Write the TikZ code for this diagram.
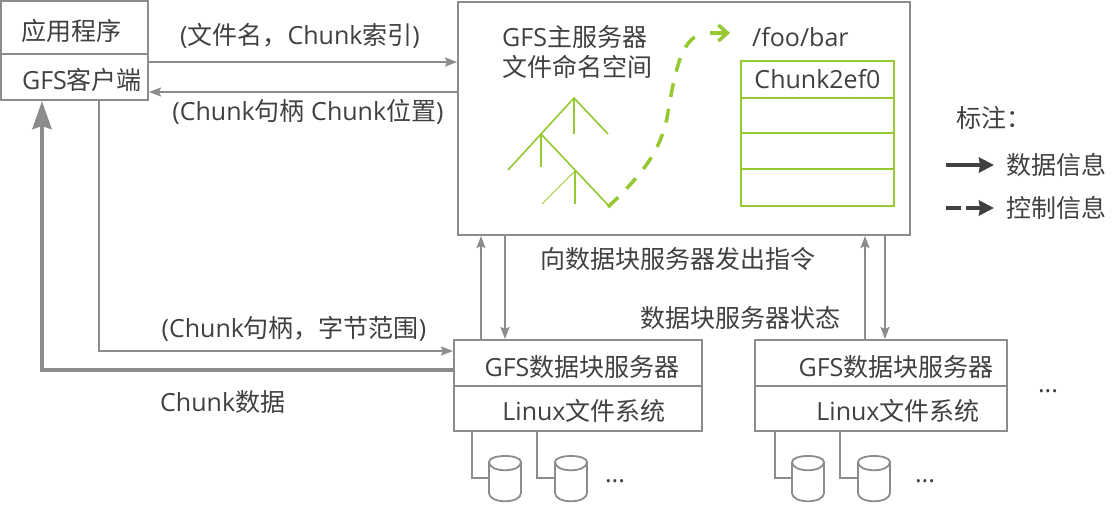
\documentclass[tikz,border=0pt]{standalone}
\usepackage{fontspec}
\setmainfont{Open Sans}
\newfontfamily\cjk{Noto Sans CJK SC}
\newcommand{\zh}[1]{{\cjk #1}}
\usetikzlibrary{arrows.meta}
\definecolor{linegray}{HTML}{8C8C8C}
\definecolor{textgray}{HTML}{404040}
\definecolor{leafgreen}{HTML}{96C832}
\tikzset{
    tag/.style={text=textgray,inner sep=0pt,font=\fontsize{25}{30}\selectfont},
    lefttag/.style={tag,anchor=west},
    box/.style={draw=linegray,line width=2pt,inner sep=0pt},
    slot/.style={draw=leafgreen,line width=2.4pt,inner sep=0pt,minimum width=153pt,text=textgray,font=\fontsize{25}{30}\selectfont},
    link/.style={draw=linegray,line width=1.8pt},
    flow/.style={link,-{Stealth[length=12pt,width=9pt,inset=2pt]}},
    bigflow/.style={draw=linegray,line width=4.5pt,-{Stealth[length=28pt,width=19pt,inset=3pt]}},
    branch/.style={draw=leafgreen,line width=1.6pt},
    jump/.style={draw=leafgreen,line width=3.5pt,dash pattern=on 14pt off 12pt},
    keysolid/.style={draw=textgray,line width=4pt,-{Stealth[length=15pt,width=15pt,inset=1pt]}},
    keydash/.style={keysolid,dash pattern=on 15pt off 5pt},
    disk/.pic={
        \draw[link,fill=white] (-16,-16) .. controls (-16,-24) and (16,-24) .. (16,-16)
            -- (16,15) .. controls (16,26) and (-16,26) .. (-16,15) -- cycle;
        \draw[link] (-16,-16) .. controls (-16,-5) and (16,-5) .. (16,-16);
        \coordinate (-side) at (-16,0);
    }
}
\begin{document}
\begin{tikzpicture}[x=1pt,y=-1pt]
\useasboundingbox (0,0) rectangle (1120,504);
% client
\node[box,minimum width=147pt,minimum height=53pt] (app) at (74.5,27.5) {};
\node[box,minimum width=147pt,minimum height=46pt] (client) at (74.5,77) {};
\node[tag] (apptext) at (71,31) {\zh{应用程序}};
\node[tag] (clienttext) at (82,80) {GFS\zh{客户端}};
% master
\node[box,minimum width=452pt,minimum height=233pt] (master) at (684,118.5) {};
\node[lefttag] (mastertext) at (502,37) {GFS\zh{主服务器}};
\node[lefttag] (spacetext) at (502,67) {\zh{文件命名空间}};
\node[lefttag] (pathtext) at (752,37) {/foo/bar};
\node[slot,minimum height=37pt] (slota) at (817.5,79.5) {Chunk2ef0};
\node[slot,minimum height=35.5pt] (slotb) at (817.5,115.5) {};
\node[slot,minimum height=36pt] (slotc) at (817.5,151) {};
\node[slot,minimum height=37pt] (slotd) at (817.5,187.5) {};
% tree
\draw[branch] (508,170)--(574,98)--(608,134);
\draw[branch] (574,98)--(574,134);
\draw[branch] (541,134)--(541,167);
\draw[branch] (541,134)--(609,206);
\draw[branch] (575,171)--(575,204);
\draw[branch,line width=0.8pt] (575,171)--(542,204);
\coordinate (treeend) at (608,207);
\coordinate (jumpend) at (730,33);
\draw[jump] (treeend) .. controls (645,172) and (660,150) .. (667,118) .. controls (676,65) and (682,36) .. (706,33);
\draw[draw=leafgreen,line width=3.5pt,-{Straight Barb[length=9pt,width=16pt]}] (710,33)--(jumpend);
% chunkservers
\node[box,minimum width=248pt,minimum height=46pt] (serverone) at (578,363) {};
\node[box,minimum width=248pt,minimum height=45pt] (fsone) at (578,408.5) {};
\node[box,minimum width=252pt,minimum height=46pt] (servertwo) at (881,363) {};
\node[box,minimum width=252pt,minimum height=45pt] (fstwo) at (881,408.5) {};
\node[tag] (serveronetext) at (582,367) {GFS\zh{数据块服务器}};
\node[tag] (fsonetext) at (584,411) {Linux\zh{文件系统}};
\node[tag] (servertwotext) at (896,367) {GFS\zh{数据块服务器}};
\node[tag] (fstwotext) at (898,411) {Linux\zh{文件系统}};
\node[tag] (moreservers) at (1048,391) {...};
% disks
\pic (diska) at (505,478) {disk};
\pic (diskb) at (571,478) {disk};
\pic (diskc) at (808,478) {disk};
\pic (diskd) at (874,478) {disk};
\node[tag] (moredisksa) at (615,481) {...};
\node[tag] (moredisksb) at (925,481) {...};
\draw[link] (fsone.south -| 472,0) |- (diska-side);
\draw[link] (fsone.south -| 537,0) |- (diskb-side);
\draw[link] (fstwo.south -| 775,0) |- (diskc-side);
\draw[link] (fstwo.south -| 840,0) |- (diskd-side);
% flows
\draw[flow,line width=2.2pt] (client.east |- 0,62)--(master.west |- 0,62);
\draw[flow,line width=1.4pt] (master.west |- 0,92)--(client.east |- 0,92);
\node[tag] (asktext) at (300,36) {(\zh{文件名，}Chunk\zh{索引})};
\node[tag] (answertext) at (308,112) {(Chunk\zh{句柄} Chunk\zh{位置})};
\draw[flow] (client.south -| 99,0) |- (serverone.west |- 0,351);
\draw[bigflow] (serverone.west |- 0,370) -| (client.south -| 42,0);
\node[tag] (rangetext) at (294,329) {(Chunk\zh{句柄，字节范围})};
\node[lefttag] (datatext) at (160,402) {Chunk\zh{数据}};
\draw[flow] (serverone.north -| 481,0)--(master.south -| 481,0);
\draw[flow] (master.south -| 505,0)--(serverone.north -| 505,0);
\draw[flow] (servertwo.north -| 865,0)--(master.south -| 865,0);
\draw[flow] (master.south -| 885,0)--(servertwo.north -| 885,0);
\node[tag] (ordertext) at (678,259) {\zh{向数据块服务器发出指令}};
\node[tag] (statetext) at (740,318) {\zh{数据块服务器状态}};
% legend
\node[tag] (keytext) at (994,118) {\zh{标注：}};
\coordinate (keyastart) at (946,165);
\coordinate (keyaend) at (994,165);
\coordinate (keybstart) at (946,208);
\coordinate (keybend) at (994,208);
\draw[keysolid] (keyastart)--(keyaend);
\draw[keydash] (keybstart)--(keybend);
\node[lefttag] (keyatext) at (1006,165) {\zh{数据信息}};
\node[lefttag] (keybtext) at (1006,208) {\zh{控制信息}};
\end{tikzpicture}
\end{document}
